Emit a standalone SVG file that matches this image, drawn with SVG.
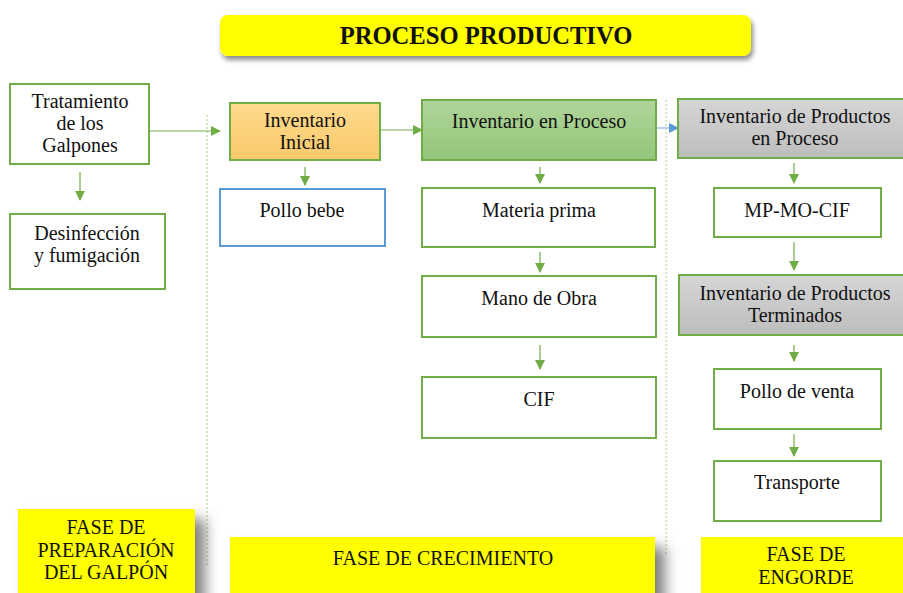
<svg xmlns="http://www.w3.org/2000/svg" width="903" height="593" viewBox="0 0 903 593">
<defs>
<style>
.t{font-family:'Liberation Serif',serif;font-size:20px;fill:#111;text-anchor:middle}
.f{font-family:'Liberation Serif',serif;font-size:20px;fill:#111;text-anchor:middle}
.h{font-family:'Liberation Serif',serif;font-size:24.6px;font-weight:bold;fill:#111;text-anchor:middle}
.box{fill:#fff;stroke:#70AD47;stroke-width:2}
.con{stroke:#70AD47;stroke-width:1.2;fill:none}
.dot{stroke:#A9D18E;stroke-width:1;stroke-dasharray:2 2;fill:none}
.yel{fill:#FFFF00}
</style>
<linearGradient id="gOr" x1="0" y1="0" x2="0" y2="1"><stop offset="0" stop-color="#FFDB8E"/><stop offset="1" stop-color="#F9C96A"/></linearGradient>
<linearGradient id="gGr" x1="0" y1="0" x2="0" y2="1"><stop offset="0" stop-color="#B0D69A"/><stop offset="1" stop-color="#93C57A"/></linearGradient>
<linearGradient id="gGy" x1="0" y1="0" x2="0" y2="1"><stop offset="0" stop-color="#D6D6D6"/><stop offset="1" stop-color="#BDBDBD"/></linearGradient>
<marker id="ag" viewBox="0 0 10 10" refX="9" refY="5" markerWidth="10" markerHeight="10" markerUnits="userSpaceOnUse" orient="auto"><path d="M0,0 L10,5 L0,10 z" fill="#70AD47"/></marker>
<marker id="ab" viewBox="0 0 10 10" refX="9" refY="5" markerWidth="10" markerHeight="10" markerUnits="userSpaceOnUse" orient="auto"><path d="M0,0 L10,5 L0,10 z" fill="#5B9BD5"/></marker>
<filter id="sh" x="-10%" y="-20%" width="130%" height="160%"><feDropShadow dx="2" dy="4" stdDeviation="2.5" flood-color="#000" flood-opacity="0.45"/></filter>
<filter id="sh2" x="-20%" y="-20%" width="160%" height="160%"><feDropShadow dx="10" dy="10" stdDeviation="7" flood-color="#000" flood-opacity="0.5"/></filter>
</defs>

<g id="title">
<rect x="220" y="15" width="531" height="41" rx="8" class="yel" filter="url(#sh)"/>
<text class="h" x="486" y="44" font-family="Liberation Serif, serif">PROCESO PRODUCTIVO</text>
</g>

<g id="dividers">
<line x1="207" y1="115" x2="207" y2="565" class="dot"/>
<line x1="666" y1="100" x2="666" y2="555" class="dot"/>
</g>

<g id="connectors">
<line x1="150" y1="131" x2="220" y2="131" class="con" marker-end="url(#ag)"/>
<line x1="80" y1="172" x2="80" y2="200" class="con" marker-end="url(#ag)"/>
<line x1="305" y1="167" x2="305" y2="185" class="con" marker-end="url(#ag)"/>
<line x1="380" y1="130" x2="422" y2="130" class="con" marker-end="url(#ag)"/>
<line x1="540" y1="167" x2="540" y2="183" class="con" marker-end="url(#ag)"/>
<line x1="540" y1="252" x2="540" y2="272" class="con" marker-end="url(#ag)"/>
<line x1="540" y1="345" x2="540" y2="369" class="con" marker-end="url(#ag)"/>
<line x1="657" y1="128" x2="678" y2="128" stroke="#9DC3E6" stroke-width="1.5" marker-end="url(#ab)"/>
<line x1="794" y1="163" x2="794" y2="183" class="con" marker-end="url(#ag)"/>
<line x1="794" y1="242" x2="794" y2="270" class="con" marker-end="url(#ag)"/>
<line x1="794" y1="345" x2="794" y2="361" class="con" marker-end="url(#ag)"/>
<line x1="794" y1="434" x2="794" y2="456" class="con" marker-end="url(#ag)"/>
</g>

<g font-family="Liberation Serif, serif">
<g id="tratamiento">
<rect x="10" y="84" width="139" height="80" class="box"/>
<text class="t" x="80" y="108">Tratamiento</text>
<text class="t" x="80" y="130">de los</text>
<text class="t" x="80" y="152">Galpones</text>
</g>
<g id="desinfeccion">
<rect x="10" y="214" width="155" height="75" class="box"/>
<text class="t" x="87" y="240">Desinfección</text>
<text class="t" x="87" y="262">y fumigación</text>
</g>

<g id="inv-inicial">
<rect x="230" y="103" width="150" height="57" fill="url(#gOr)" stroke="#70AD47" stroke-width="2"/>
<text class="t" x="305" y="127">Inventario</text>
<text class="t" x="305" y="149">Inicial</text>
</g>
<g id="pollo-bebe">
<rect x="220" y="189" width="165" height="57" fill="#fff" stroke="#5B9BD5" stroke-width="2"/>
<text class="t" x="302" y="217">Pollo bebe</text>
</g>

<g id="inv-proceso">
<rect x="422" y="100" width="234" height="60" fill="url(#gGr)" stroke="#70AD47" stroke-width="2"/>
<text class="t" x="539" y="128">Inventario en Proceso</text>
</g>
<g id="materia-prima">
<rect x="422" y="188" width="233" height="59" class="box"/>
<text class="t" x="539" y="217">Materia prima</text>
</g>
<g id="mano-obra">
<rect x="422" y="276" width="234" height="61" class="box"/>
<text class="t" x="539" y="305">Mano de Obra</text>
</g>
<g id="cif">
<rect x="422" y="377" width="234" height="61" class="box"/>
<text class="t" x="539" y="406">CIF</text>
</g>

<g id="inv-prod-proceso">
<rect x="678" y="99" width="230" height="59" fill="url(#gGy)" stroke="#70AD47" stroke-width="2"/>
<text class="t" x="795" y="123">Inventario de Productos</text>
<text class="t" x="795" y="145">en Proceso</text>
</g>
<g id="mp-mo-cif">
<rect x="714" y="188" width="167" height="49" class="box"/>
<text class="t" x="797" y="217">MP-MO-CIF</text>
</g>
<g id="inv-prod-terminados">
<rect x="679" y="275" width="230" height="60" fill="url(#gGy)" stroke="#70AD47" stroke-width="2"/>
<text class="t" x="795" y="300">Inventario de Productos</text>
<text class="t" x="795" y="322">Terminados</text>
</g>
<g id="pollo-venta">
<rect x="714" y="369" width="167" height="60" class="box"/>
<text class="t" x="797" y="398">Pollo de venta</text>
</g>
<g id="transporte">
<rect x="714" y="461" width="167" height="60" class="box"/>
<text class="t" x="797" y="489">Transporte</text>
</g>

<g id="fase-preparacion">
<rect x="18" y="509" width="177" height="90" class="yel" filter="url(#sh2)"/>
<text class="f" x="106" y="534">FASE DE</text>
<text class="f" x="106" y="557">PREPARACIÓN</text>
<text class="f" x="106" y="579">DEL GALPÓN</text>
</g>
<g id="fase-crecimiento">
<rect x="230" y="537" width="425" height="62" class="yel" filter="url(#sh2)"/>
<text class="f" x="443" y="565">FASE DE CRECIMIENTO</text>
</g>
<g id="fase-engorde">
<rect x="701" y="537" width="210" height="62" class="yel"/>
<text class="f" x="806" y="561">FASE DE</text>
<text class="f" x="806" y="584">ENGORDE</text>
</g>
</g>
</svg>
